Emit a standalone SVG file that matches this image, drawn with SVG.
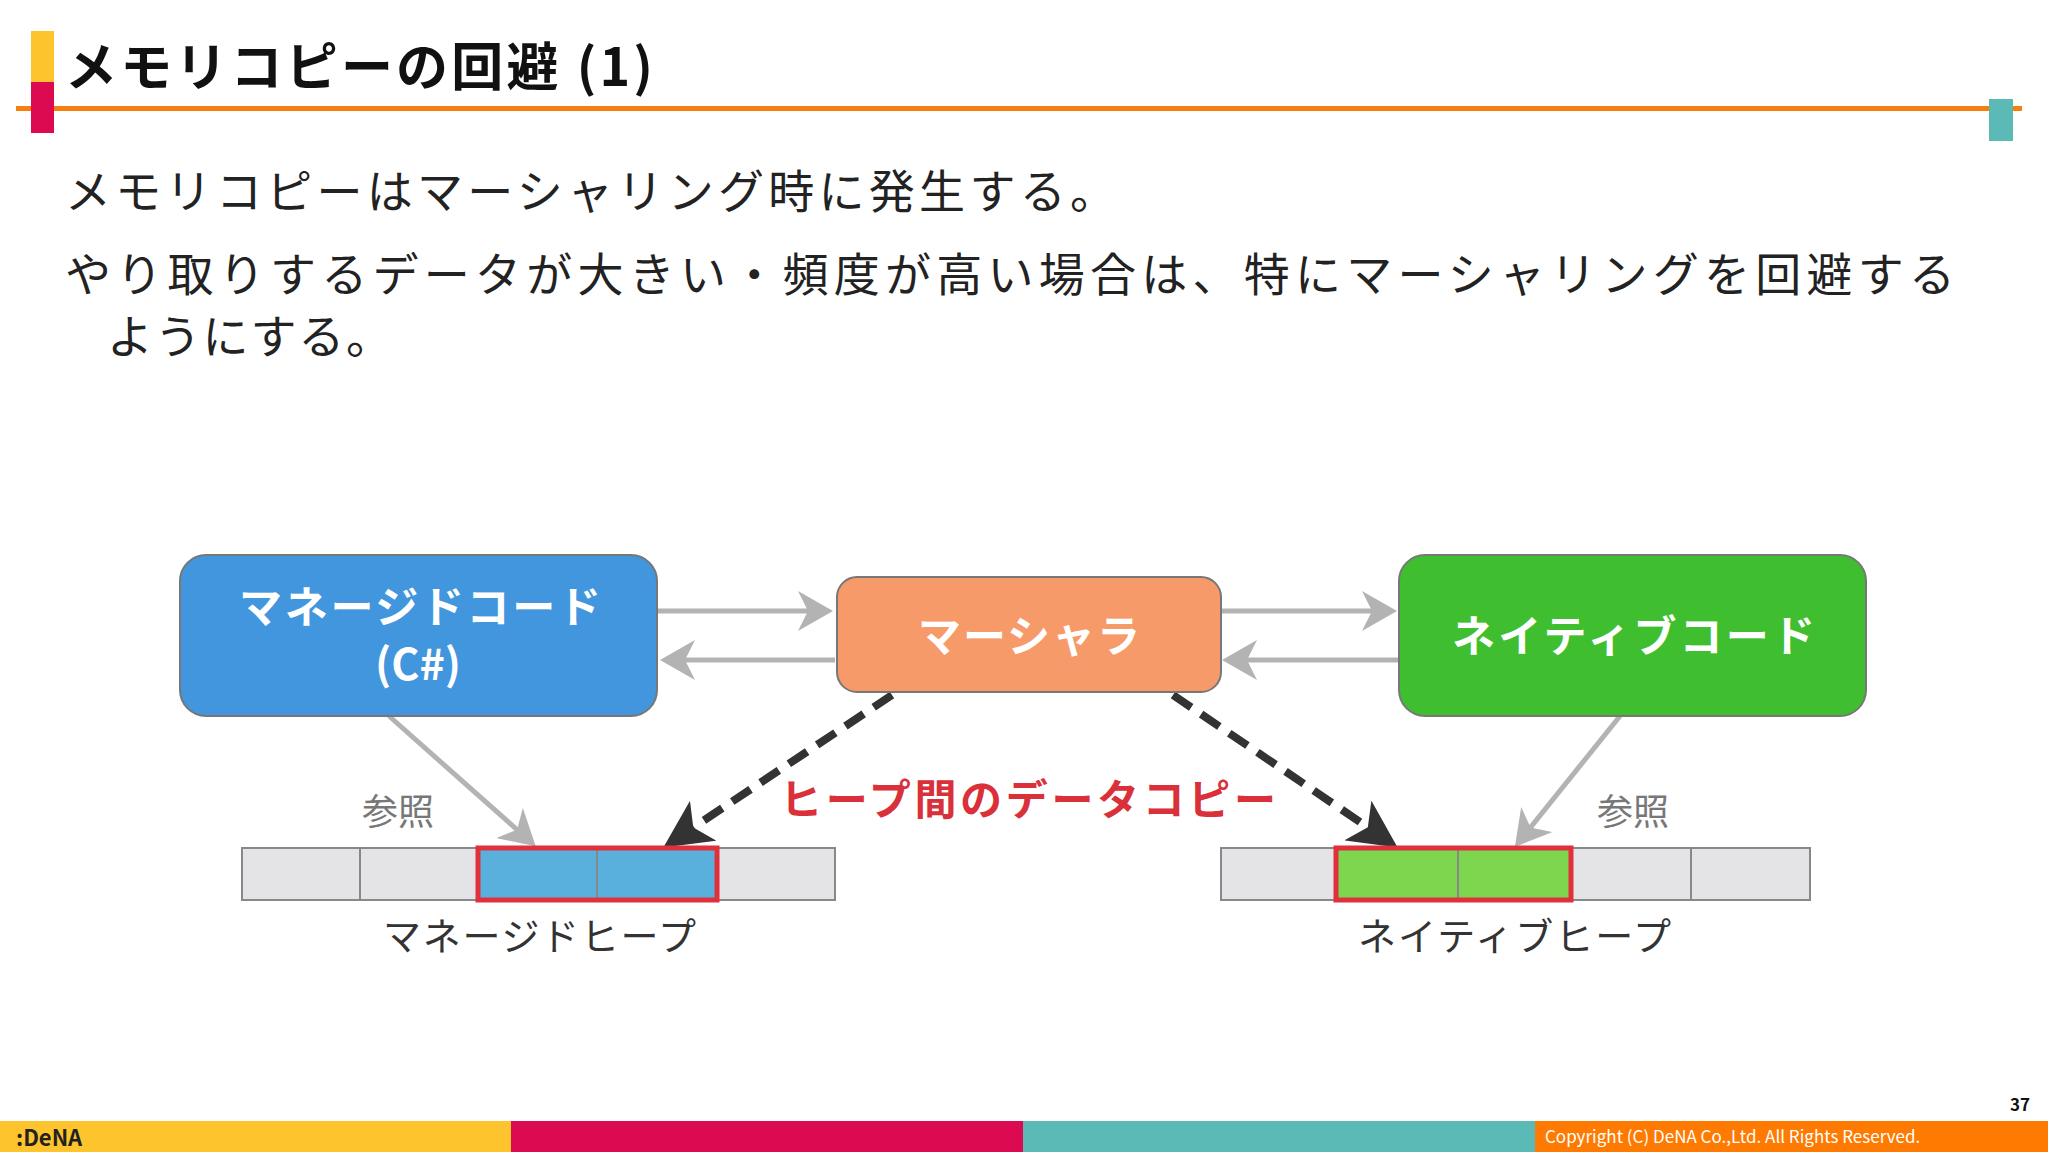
<svg xmlns="http://www.w3.org/2000/svg" width="2048" height="1152" viewBox="0 0 2048 1152">
<style>
text{font-family:"Noto Sans CJK JP","Noto Sans",sans-serif}
.body{font-size:46px;fill:#222}
.node{font-size:43px;font-weight:bold;fill:#fff}
.lbl{font-size:38px;fill:#333}
.ref{font-size:36px;fill:#777}
.cell{fill:#e4e3e6;stroke:#888;stroke-width:2}
.g{stroke:#b3b3b3;stroke-width:5;fill:none}
.d{stroke:#333;stroke-width:8;stroke-dasharray:22 12;fill:none}
</style>
<defs>
<marker id="ag" markerWidth="8" markerHeight="8" refX="6" refY="4" orient="auto" markerUnits="strokeWidth"><path d="M0,0 L7,4 L0,8 L2,4Z" fill="#b3b3b3"/></marker>
<marker id="ad" markerWidth="6" markerHeight="6" refX="5" refY="3" orient="auto" markerUnits="strokeWidth"><path d="M0,0 L6,3 L0,6 L1.5,3Z" fill="#333"/></marker>
</defs>
<rect width="2048" height="1152" fill="#fff"/>
<rect x="16" y="106" width="2006" height="5" fill="#f77f0f"/>
<rect x="31" y="31" width="23" height="51" fill="#fec42e"/>
<rect x="31" y="82" width="23" height="51" fill="#dc0a50"/>
<rect x="1989" y="99" width="24" height="42" fill="#5bbab5"/>
<text x="65" y="86" font-size="52" font-weight="bold" fill="#111" textLength="588" lengthAdjust="spacing">メモリコピーの回避 (1)</text>
<text class="body" x="65" y="208" textLength="1051" lengthAdjust="spacing">メモリコピーはマーシャリング時に発生する。</text>
<text class="body" x="65" y="291" textLength="1890" lengthAdjust="spacing">やり取りするデータが大きい・頻度が高い場合は、特にマーシャリングを回避する</text>
<text class="body" x="107" y="353" textLength="285" lengthAdjust="spacing">ようにする。</text>
<g id="connectors">
<line class="g" x1="657" y1="611" x2="828" y2="611" marker-end="url(#ag)"/>
<line class="g" x1="835" y1="660" x2="665" y2="660" marker-end="url(#ag)"/>
<line class="g" x1="1221" y1="611" x2="1392" y2="611" marker-end="url(#ag)"/>
<line class="g" x1="1399" y1="660" x2="1227" y2="660" marker-end="url(#ag)"/>
<line class="g" x1="389" y1="716" x2="532" y2="843" marker-end="url(#ag)"/>
<line class="g" x1="1620" y1="716" x2="1518" y2="843" marker-end="url(#ag)"/>
<line class="d" x1="892" y1="695" x2="670" y2="843" marker-end="url(#ad)"/>
<line class="d" x1="1173" y1="695" x2="1391" y2="843" marker-end="url(#ad)"/>
</g>
<g id="managed">
<rect x="180" y="555" width="477" height="161" rx="26" fill="#4196de" stroke="#777" stroke-width="2"/>
<text class="node" x="239" y="623" textLength="362" lengthAdjust="spacing">マネージドコード</text>
<text class="node" x="418" y="680" text-anchor="middle">(C#)</text>
</g>
<g id="marshaler">
<rect x="837" y="577" width="384" height="115" rx="20" fill="#f79a6a" stroke="#777" stroke-width="2"/>
<text class="node" x="918" y="652" textLength="222" lengthAdjust="spacing">マーシャラ</text>
</g>
<g id="native">
<rect x="1399" y="555" width="467" height="161" rx="26" fill="#3fbf2f" stroke="#777" stroke-width="2"/>
<text class="node" x="1452" y="652" textLength="363" lengthAdjust="spacing">ネイティブコード</text>
</g>
<g id="managed-heap">
<rect class="cell" x="242" y="848" width="118" height="52"/>
<rect class="cell" x="360" y="848" width="118" height="52"/>
<rect class="cell" x="717" y="848" width="118" height="52"/>
<rect x="478" y="848" width="119" height="52" fill="#5ab0dc" stroke="#888" stroke-width="2"/>
<rect x="597" y="848" width="120" height="52" fill="#5ab0dc" stroke="#888" stroke-width="2"/>
<rect x="478" y="848" width="239" height="52" fill="none" stroke="#e0303c" stroke-width="5"/>
<text class="lbl" x="383" y="950" textLength="313" lengthAdjust="spacing">マネージドヒープ</text>
<text class="ref" x="398" y="825" text-anchor="middle">参照</text>
</g>
<g id="native-heap">
<rect class="cell" x="1221" y="848" width="115" height="52"/>
<rect class="cell" x="1571" y="848" width="120" height="52"/>
<rect class="cell" x="1691" y="848" width="119" height="52"/>
<rect x="1336" y="848" width="122" height="52" fill="#7ed64e" stroke="#888" stroke-width="2"/>
<rect x="1458" y="848" width="113" height="52" fill="#7ed64e" stroke="#888" stroke-width="2"/>
<rect x="1336" y="848" width="235" height="52" fill="none" stroke="#e0303c" stroke-width="5"/>
<text class="lbl" x="1358" y="950" textLength="313" lengthAdjust="spacing">ネイティブヒープ</text>
<text class="ref" x="1633" y="825" text-anchor="middle">参照</text>
</g>
<text x="780" y="815" font-size="42" font-weight="bold" fill="#d9303a" textLength="496" lengthAdjust="spacing">ヒープ間のデータコピー</text>
<rect x="0" y="1121" width="511" height="31" fill="#fec42e"/>
<rect x="511" y="1121" width="512" height="31" fill="#dc0a50"/>
<rect x="1023" y="1121" width="512" height="31" fill="#5bbab5"/>
<rect x="1535" y="1121" width="513" height="31" fill="#fe7a00"/>
<text x="16" y="1146" font-size="22" font-weight="bold" fill="#222" font-family="Liberation Sans,sans-serif">:DeNA</text>
<text x="1545" y="1143" font-size="17" fill="#fff">Copyright (C) DeNA Co.,Ltd. All Rights Reserved.</text>
<text x="2030" y="1111" font-size="17" font-weight="bold" fill="#111" text-anchor="end">37</text>
</svg>
